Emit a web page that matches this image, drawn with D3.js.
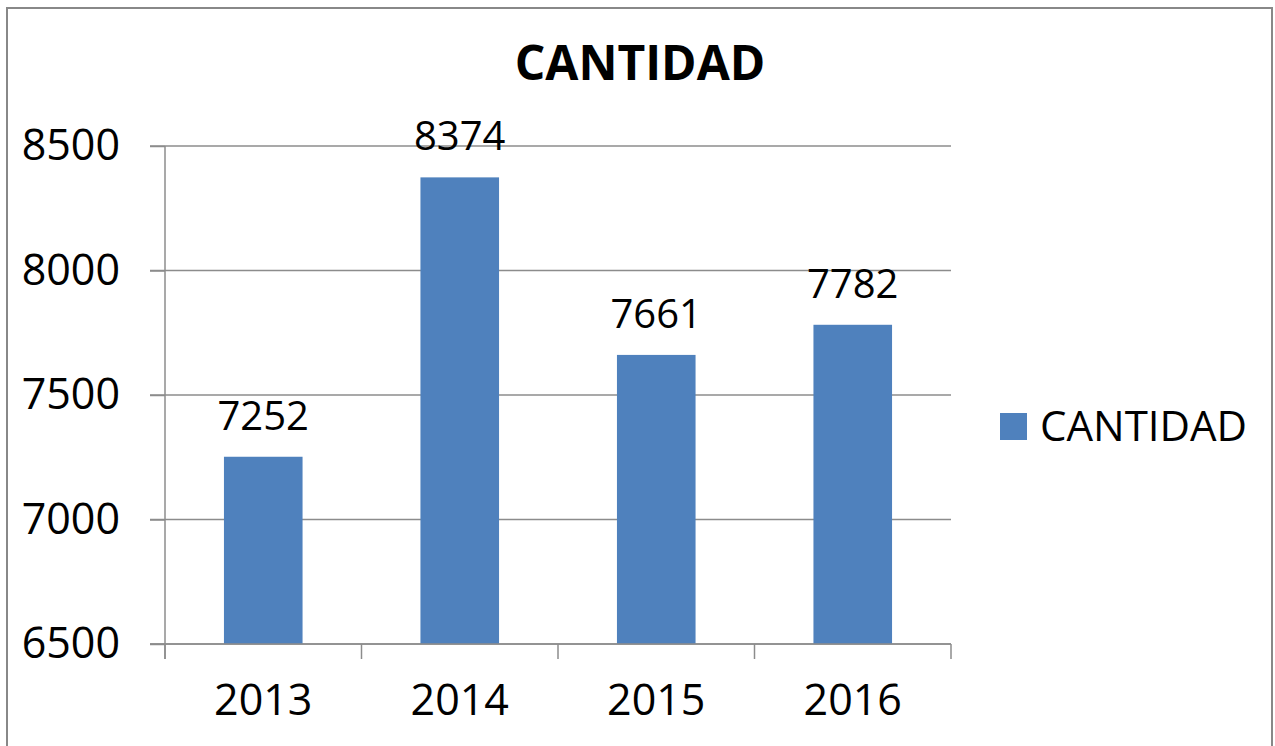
<!DOCTYPE html>
<html>
<head>
<meta charset="utf-8">
<script src="https://cdn.jsdelivr.net/npm/d3@7"></script>
<style>
	body { margin: 0; background: #fff; }
	text { font-family: "Open Sans", sans-serif; }
</style>
</head>
<body>
<svg id="chart" width="1275" height="746"></svg>
<script>
var years = ["2013", "2014", "2015", "2016"];
var cantidad = [7252, 8374, 7661, 7782];
var y_ticks = [6500, 7000, 7500, 8000, 8500];
var series_name = "CANTIDAD";

var data = years.map((d, i) => ({year: d, value: cantidad[i]}));

var svg = d3.select("#chart"),
	margin = {top: 146, left: 165, bottom: 102, right: 324},
	width = +svg.attr("width"),
	height = +svg.attr("height");

// outer frame
svg.append("rect")
	.attr("x", 7).attr("y", 8)
	.attr("width", 1265).attr("height", 760)
	.attr("fill", "none")
	.attr("stroke", "#888")
	.attr("stroke-width", 2);

var x = d3.scaleBand()
	.domain(years)
	.range([margin.left, width - margin.right])
	.paddingInner(0.6)
	.paddingOuter(0.3);

var y = d3.scaleLinear()
	.domain([6500, 8500])
	.range([height - margin.bottom, margin.top]);

// gridlines
svg.append("g")
	.attr("class", "grid")
	.selectAll("line")
	.data(y_ticks)
	.enter().append("line")
	.attr("x1", 150)
	.attr("x2", x.range()[1])
	.attr("y1", d => y(d))
	.attr("y2", d => y(d))
	.attr("stroke", "#8c8c8c")
	.attr("stroke-width", 1.5);

// bars
svg.selectAll(".bar")
	.data(data)
	.enter().append("rect")
	.attr("class", "bar")
	.attr("fill", "#4f81bd")
	.attr("x", d => x(d.year))
	.attr("width", x.bandwidth())
	.attr("y", d => y(d.value))
	.attr("height", d => y(6500) - y(d.value));

// value labels
svg.selectAll(".labels")
	.data(data)
	.enter().append("text")
	.attr("class", "labels")
	.attr("x", d => x(d.year) + x.bandwidth() / 2)
	.attr("y", d => y(d.value) - 27)
	.attr("text-anchor", "middle")
	.style("font-size", "40px")
	.text(d => d.value);

// y axis
var yAxis = svg.append("g")
	.attr("class", "y-axis")
	.attr("transform", `translate(${margin.left},0)`)
	.call(d3.axisLeft(y).tickValues(y_ticks).tickSize(15).tickPadding(30).tickFormat(d3.format("d")));
yAxis.select(".domain").attr("d", `M0,${y(8500)}V${y(6500) + 15}`);

// x axis
var xAxis = svg.append("g")
	.attr("class", "x-axis")
	.attr("transform", `translate(0,${y(6500)})`)
	.call(d3.axisBottom(x).tickSize(0).tickPadding(40));
xAxis.select(".domain").attr("d", `M150,0H${x.range()[1]}`);

// category boundary ticks
var bounds = years.map(d => x(d) - x.step() * x.paddingInner() / 2);
bounds[0] = x.range()[0];
bounds.push(x.range()[1]);
xAxis.selectAll(".bound")
	.data(bounds)
	.enter().append("line")
	.attr("class", "bound")
	.attr("x1", d => d).attr("x2", d => d)
	.attr("y1", 0).attr("y2", 15)
	.attr("stroke", "#8c8c8c")
	.attr("stroke-width", 1.5);

svg.selectAll(".y-axis, .x-axis").selectAll("path, line")
	.attr("stroke", "#8c8c8c")
	.attr("stroke-width", 1.5);
svg.selectAll(".y-axis text, .x-axis text")
	.attr("fill", "#000")
	.style("font-size", "43px")
	.style("font-family", "'Open Sans', sans-serif");

// title
svg.append("text")
	.attr("x", 640)
	.attr("y", 80)
	.attr("text-anchor", "middle")
	.style("font-size", "48px")
	.style("font-weight", "bold")
	.text(series_name);

// legend
var legend = svg.append("g").attr("transform", "translate(1000,413)");
legend.append("rect")
	.attr("width", 27).attr("height", 27)
	.attr("fill", "#4f81bd");
legend.append("text")
	.attr("x", 40)
	.attr("y", 28)
	.style("font-size", "42px")
	.text(series_name);
</script>
</body>
</html>
